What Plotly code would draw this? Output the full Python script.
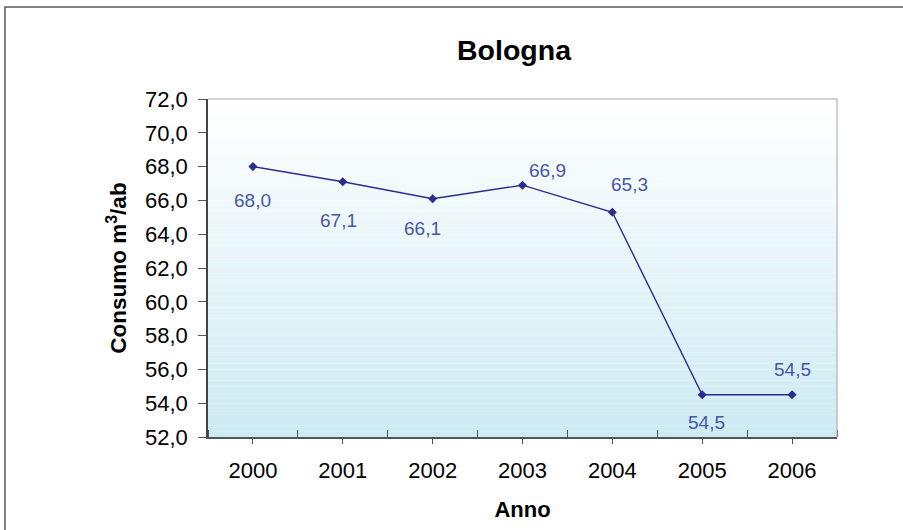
import plotly.graph_objects as go

# data
anni = [2000, 2001, 2002, 2003, 2004, 2005, 2006]
consumo = [68.0, 67.1, 66.1, 66.9, 65.3, 54.5, 54.5]
y_ticks = [52, 54, 56, 58, 60, 62, 64, 66, 68, 70, 72]

# where each value label sits relative to its point (px)
label_dx = [0, -4, -10, 25, 17, 4, 0]
label_dy = [-34, -39, -30, 15, 28, -28, 25]

W, H = 903, 530
ML, MR, MT, MB = 208, 66, 99, 93
FONT = "Liberation Sans, Arial, sans-serif"
LINE = "#2B2D8E"
LABEL = "#4756A8"

fig = go.Figure()

fig.add_scatter(
    x=anni,
    y=consumo,
    mode="lines+markers",
    line=dict(color=LINE, width=1.4),
    marker=dict(symbol="diamond", size=7, color=LINE),
    hoverinfo="skip",
)

for x, y, dx, dy in zip(anni, consumo, label_dx, label_dy):
    fig.add_annotation(
        x=x, y=y, text=f"{y:.1f}".replace(".", ","),
        showarrow=False, xshift=dx, yshift=dy,
        font=dict(family=FONT, size=19, color=LABEL),
    )

# vertical gradient in the plot area: white on top, light blue at the bottom
n = 60
top, bottom = (255, 255, 255), (205, 234, 242)
for i in range(n):
    t = (i + 0.5) / n
    c = [round(bottom[k] + (top[k] - bottom[k]) * t) for k in range(3)]
    fig.add_shape(
        type="rect", xref="x domain", yref="y domain",
        x0=0, x1=1, y0=i / n, y1=(i + 1) / n,
        fillcolor=f"rgb({c[0]},{c[1]},{c[2]})", line_width=0, layer="below",
    )

# light grey top/right frame of the plot area
fig.add_shape(type="line", xref="x domain", yref="y domain", x0=0, x1=1, y0=1, y1=1,
              line=dict(color="#A6A6A6", width=1))
fig.add_shape(type="line", xref="x domain", yref="y domain", x0=1, x1=1, y0=0, y1=1,
              line=dict(color="#A6A6A6", width=1))

# outer chart border
pw, ph = W - ML - MR, H - MT - MB
fig.add_shape(
    type="rect", xref="paper", yref="paper",
    x0=(5 - ML) / pw, x1=(W + 5 - ML) / pw,
    y0=(MT + ph - (H + 5)) / ph, y1=(MT + ph - 7) / ph,
    line=dict(color="#5A5A5A", width=1.5), fillcolor="rgba(0,0,0,0)",
)

fig.update_layout(
    width=W,
    height=H,
    margin=dict(l=ML, r=MR, t=MT, b=MB),
    paper_bgcolor="white",
    plot_bgcolor="white",
    showlegend=False,
    font=dict(family=FONT, color="black"),
    title=dict(
        text="<b>Bologna</b>", x=514 / W, y=1 - 50 / H,
        xref="container", yref="container", xanchor="center", yanchor="middle",
        font=dict(size=28.5, family=FONT, color="black"),
    ),
)

fig.update_xaxes(
    range=[anni[0] - 0.5, anni[-1] + 0.5],
    tickvals=anni,
    ticktext=[str(a) for a in anni],
    ticks="outside", ticklen=5, tickcolor="#555555",
    ticklabelstandoff=8,
    minor=dict(tick0=anni[0] - 0.5, dtick=1, ticks="inside", ticklen=7, tickcolor="#555555"),
    showline=True, linecolor="#555555", linewidth=1.5,
    showgrid=False, zeroline=False,
    tickfont=dict(size=22, family=FONT, color="black"),
    title=dict(text="<b>Anno</b>", font=dict(size=22, family=FONT, color="black"), standoff=19),
)

fig.update_yaxes(
    range=[y_ticks[0], y_ticks[-1]],
    tickvals=y_ticks,
    ticktext=[f"{v:.1f}".replace(".", ",") for v in y_ticks],
    ticks="outside", ticklen=8, tickcolor="#555555",
    ticklabelstandoff=6,
    showline=True, linecolor="#444444", linewidth=1.5,
    showgrid=False, zeroline=False,
    tickfont=dict(size=22, family=FONT, color="black"),
    title=dict(text="<b>Consumo m<sup>3</sup>/ab</b>",
               font=dict(size=22.5, family=FONT, color="black"), standoff=12),
)

# the page has a default body margin; drop it so the chart sits at 0,0
fig.write_html(
    "out.html",
    config={"displayModeBar": False},
    post_script="document.body.style.margin='0';",
)
